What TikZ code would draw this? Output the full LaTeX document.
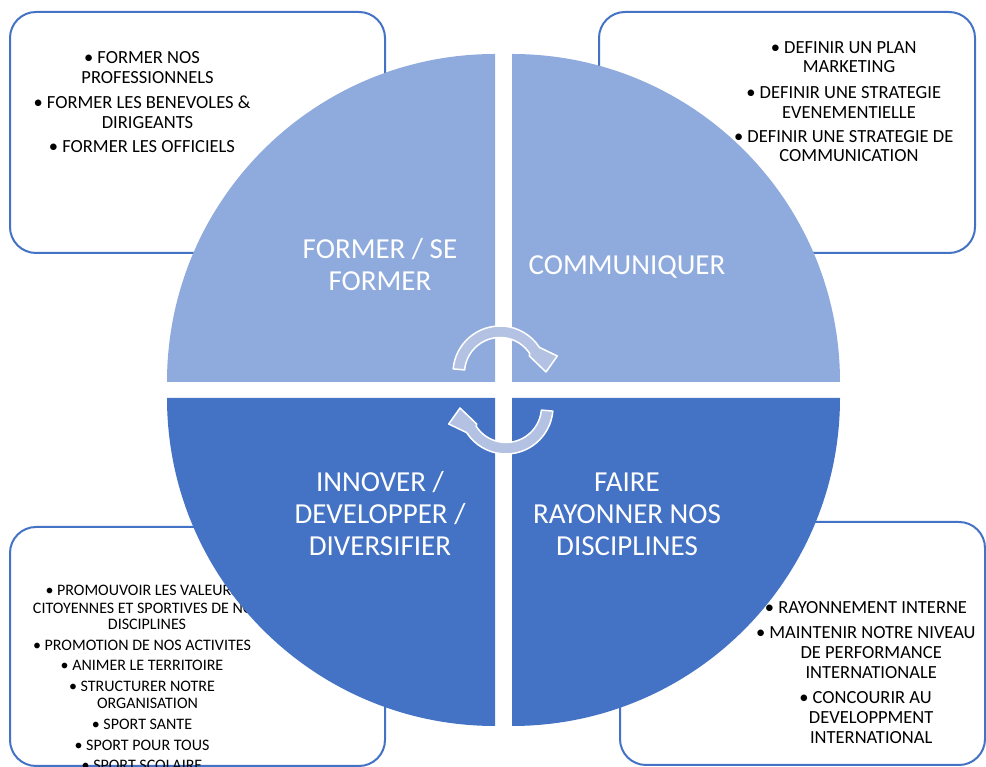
\documentclass[tikz,border=0pt]{standalone}
\usepackage{fontspec}
\setmainfont{Carlito}
\definecolor{qlight}{HTML}{8FAADC}
\definecolor{qdark}{HTML}{4472C4}
\definecolor{boxline}{HTML}{4472C4}
\definecolor{arrowfill}{HTML}{B3C1E3}
\newcommand{\myarrowpath}{%
  (175:47) arc[start angle=175, end angle=33, radius=47pt]
  -- (57.3,17) -- (46,1) -- (29.3,17)
  -- (33:35.5) arc[start angle=33, end angle=175, radius=35.5pt] -- cycle}
\begin{document}
\begin{tikzpicture}[x=1pt,y=1pt,
  boxstyle/.style={draw=boxline, line width=2pt, rounded corners=26pt, fill=white},
  bt/.style={font=\fontsize{18.5}{20.3}\selectfont, inner sep=0pt, anchor=base, text=black},
  st/.style={font=\fontsize{16}{17.3}\selectfont, inner sep=0pt, anchor=base, text=black},
  ql/.style={font=\fontsize{29}{32}\selectfont, inner sep=0pt, anchor=base, text=white},
  carrow/.style={fill=arrowfill, draw=white, line width=1.5pt, line join=round}]
\useasboundingbox (0,0) rectangle (986,767);
\clip (0,0) rectangle (986,767);
% boxes
\draw[boxstyle] (10,755) rectangle (385,514);
\draw[boxstyle] (599,755) rectangle (975,514);
\draw[boxstyle] (10,240) rectangle (385,1);
\draw[boxstyle] (620,245) rectangle (985,2);
% top-left text
\node[bt] (tl1) at (142,703.7) {• FORMER NOS};
\node[bt] (tl2) at (147.5,683) {PROFESSIONNELS};
\node[bt] (tl3) at (142,658.7) {• FORMER LES BENEVOLES \&};
\node[bt] (tl4) at (147.5,638.7) {DIRIGEANTS};
\node[bt] (tl5) at (142,614.3) {• FORMER LES OFFICIELS};
% top-right text
\node[bt] (tr1) at (843.7,713.7) {• DEFINIR UN PLAN};
\node[bt] (tr2) at (849,694.3) {MARKETING};
\node[bt] (tr3) at (843.7,668.7) {• DEFINIR UNE STRATEGIE};
\node[bt] (tr4) at (849,648.7) {EVENEMENTIELLE};
\node[bt] (tr5) at (843.7,624.3) {• DEFINIR UNE STRATEGIE DE};
\node[bt] (tr6) at (849,605.3) {COMMUNICATION};
% bottom-left text
\node[st] (bl1) at (142,171) {• PROMOUVOIR LES VALEURS};
\node[st] (bl2) at (147,153.7) {CITOYENNES ET SPORTIVES DE NOS};
\node[st] (bl3) at (147,137) {DISCIPLINES};
\node[st] (bl4) at (142,116) {• PROMOTION DE NOS ACTIVITES};
\node[st] (bl5) at (142,96) {• ANIMER LE TERRITOIRE};
\node[st] (bl6) at (142,75.3) {• STRUCTURER NOTRE};
\node[st] (bl7) at (147.5,58) {ORGANISATION};
\node[st] (bl8) at (142,37) {• SPORT SANTE};
\node[st] (bl9) at (142,16.3) {• SPORT POUR TOUS};
\node[st] (bl10) at (142,-3.5) {• SPORT SCOLAIRE};
% bottom-right text
\node[bt] (br1) at (866,153) {• RAYONNEMENT INTERNE};
\node[bt] (br2) at (865.8,128.7) {• MAINTENIR NOTRE NIVEAU};
\node[bt] (br3) at (871.2,108) {DE PERFORMANCE};
\node[bt] (br4) at (871.2,88.7) {INTERNATIONALE};
\node[bt] (br5) at (865.5,63.7) {• CONCOURIR AU};
\node[bt] (br6) at (871.2,43.7) {DEVELOPPMENT};
\node[bt] (br7) at (871.2,23.7) {INTERNATIONAL};
% quadrants
\fill[qlight] (495,385) -- ++(-328,0) arc[start angle=180, end angle=90, radius=328pt] -- cycle;
\fill[qlight] (512,385) -- ++(0,328) arc[start angle=90, end angle=0, radius=328pt] -- cycle;
\fill[qdark] (495,369) -- ++(-328,0) arc[start angle=180, end angle=270, radius=328pt] -- cycle;
\fill[qdark] (512,369) -- ++(0,-328) arc[start angle=270, end angle=360, radius=328pt] -- cycle;
% quadrant labels
\node[ql] (q1a) at (380,508) {FORMER / SE};
\node[ql] (q1b) at (380,476.3) {FORMER};
\node[ql] (q2) at (627,492) {COMMUNIQUER};
\node[ql] (q3a) at (380,275) {INNOVER /};
\node[ql] (q3b) at (380,243) {DEVELOPPER /};
\node[ql] (q3c) at (380,211) {DIVERSIFIER};
\node[ql] (q4a) at (627,275) {FAIRE};
\node[ql] (q4b) at (627,243) {RAYONNER NOS};
\node[ql] (q4c) at (627,211) {DISCIPLINES};
% cycle arrows
\begin{scope}[shift={(500,394)}]
  \draw[carrow] \myarrowpath;
\end{scope}
\begin{scope}[shift={(506,360)}, rotate=180]
  \draw[carrow] \myarrowpath;
\end{scope}
\end{tikzpicture}
\end{document}
